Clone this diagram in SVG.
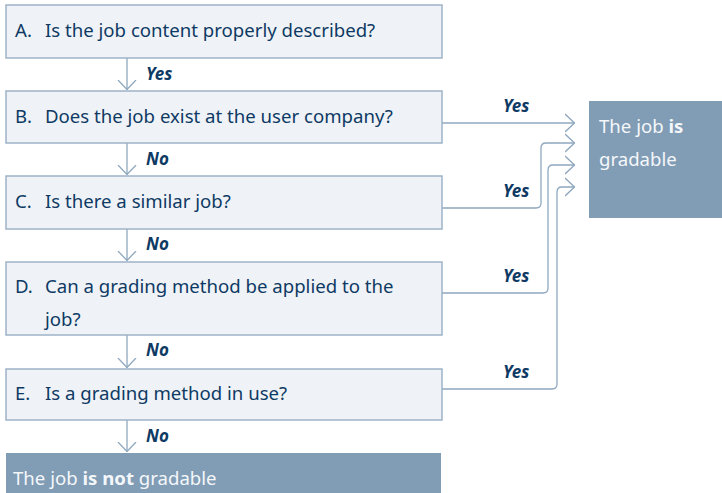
<svg xmlns="http://www.w3.org/2000/svg" width="722" height="493" viewBox="0 0 722 493">
<defs>
<style>
.box{fill:#eff3f7;stroke:#9eb3c7;stroke-width:1.5}
.dark{fill:#819cb5}
.t{font-family:"Noto Sans","Open Sans",sans-serif;font-size:18.6px;fill:#0e3a64}
.w{font-family:"Noto Sans","Open Sans",sans-serif;font-size:18.6px;fill:#f4f7fa}
.lbl{font-family:"Noto Sans","Open Sans",sans-serif;font-size:17px;font-weight:bold;font-style:italic;fill:#0e3a64}
.c{fill:none;stroke:#8fa8bf;stroke-width:1.3}
</style>
<marker id="ah" viewBox="0 0 10 20" refX="10" refY="10" markerWidth="10" markerHeight="20" markerUnits="userSpaceOnUse" orient="auto">
<path d="M0,1 L9.5,10 L0,19" fill="none" stroke="#8fa8bf" stroke-width="1.3"/>
</marker>
</defs>
<rect width="722" height="493" fill="#ffffff"/>
<g id="connectors">
<line class="c" x1="127" y1="58" x2="127" y2="90" marker-end="url(#ah)"/>
<line class="c" x1="127" y1="143" x2="127" y2="175" marker-end="url(#ah)"/>
<line class="c" x1="127" y1="229" x2="127" y2="261" marker-end="url(#ah)"/>
<line class="c" x1="127" y1="335" x2="127" y2="368" marker-end="url(#ah)"/>
<line class="c" x1="127" y1="420" x2="127" y2="452" marker-end="url(#ah)"/>
<line class="c" x1="442" y1="123" x2="575" y2="123" marker-end="url(#ah)"/>
<path class="c" d="M442,208 H536 Q541,208 541,203 V148 Q541,143 546,143 H575" marker-end="url(#ah)"/>
<path class="c" d="M442,293 H543 Q548,293 548,288 V170 Q548,165 553,165 H575" marker-end="url(#ah)"/>
<path class="c" d="M442,389 H552 Q557,389 557,384 V192 Q557,187 562,187 H575" marker-end="url(#ah)"/>
<text class="lbl" x="146" y="80">Yes</text>
<text class="lbl" x="146" y="165">No</text>
<text class="lbl" x="146" y="250">No</text>
<text class="lbl" x="146" y="356">No</text>
<text class="lbl" x="146" y="442">No</text>
<text class="lbl" x="503" y="112">Yes</text>
<text class="lbl" x="503" y="197">Yes</text>
<text class="lbl" x="503" y="282">Yes</text>
<text class="lbl" x="503" y="378">Yes</text>
</g>
<g id="nodeA">
<rect class="box" x="6" y="5" width="436" height="53"/>
<text class="t" x="15" y="37">A.</text><text class="t" x="45" y="37">Is the job content properly described?</text>
</g>
<g id="nodeB">
<rect class="box" x="6" y="91" width="436" height="52"/>
<text class="t" x="15" y="123">B.</text><text class="t" x="45" y="123">Does the job exist at the user company?</text>
</g>
<g id="nodeC">
<rect class="box" x="6" y="176" width="436" height="53"/>
<text class="t" x="15" y="208">C.</text><text class="t" x="45" y="208">Is there a similar job?</text>
</g>
<g id="nodeD">
<rect class="box" x="6" y="262" width="436" height="73"/>
<text class="t" x="15" y="293">D.</text><text class="t" x="45" y="293">Can a grading method be applied to the</text>
<text class="t" x="45" y="326">job?</text>
</g>
<g id="nodeE">
<rect class="box" x="6" y="369" width="436" height="51"/>
<text class="t" x="15" y="400">E.</text><text class="t" x="45" y="400">Is a grading method in use?</text>
</g>
<g id="notGradable">
<rect class="dark" x="6" y="453" width="435" height="40"/>
<text class="w" x="13" y="485">The job <tspan font-weight="bold">is not</tspan> gradable</text>
</g>
<g id="gradable">
<rect class="dark" x="589" y="101" width="133" height="117"/>
<text class="w" x="599" y="133">The job <tspan font-weight="bold">is</tspan></text>
<text class="w" x="599" y="166">gradable</text>
</g>
</svg>
